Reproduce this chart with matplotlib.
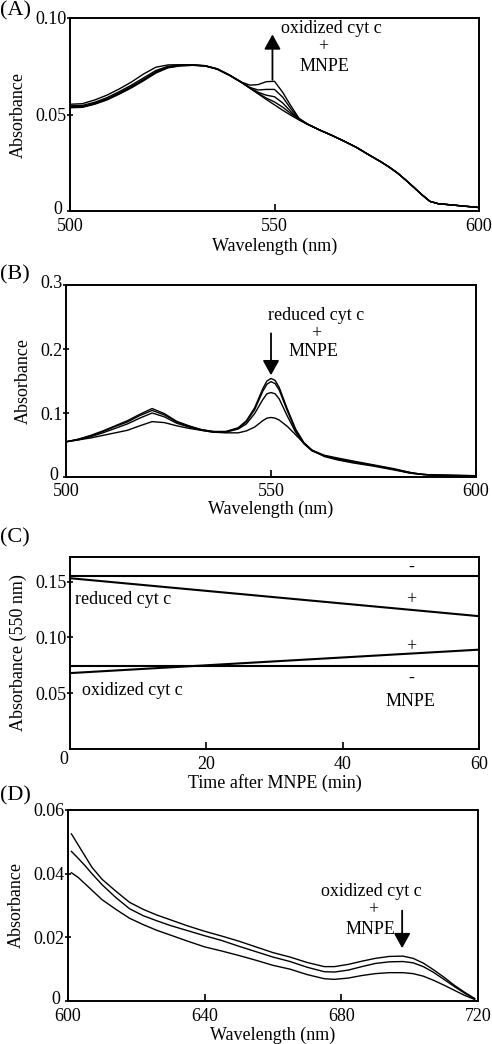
import matplotlib
matplotlib.use("Agg")
import matplotlib.pyplot as plt
from matplotlib.transforms import ScaledTranslation

plt.rcParams['font.family'] = ['Liberation Serif', 'DejaVu Serif']
plt.rcParams['font.size'] = 13

# (A) oxidized cyt c + MNPE, 500-600 nm
wl_a = [500, 503, 506, 509, 512, 515, 518, 521, 524, 527, 530, 533, 536, 539, 542, 544,
        546, 548, 550, 552, 554, 556, 558, 561, 564, 567, 570, 573, 576, 578, 580, 582,
        584, 586, 588, 590, 594, 600]
a0 = [0.0535, 0.0537, 0.0553, 0.0575, 0.0605, 0.0638, 0.0675, 0.0715, 0.0742, 0.0752, 0.0755, 0.0752,
      0.0735, 0.0703, 0.0665, 0.0636, 0.0607, 0.0578, 0.0550, 0.0522, 0.0496, 0.0472, 0.0450, 0.0420,
      0.0392, 0.0362, 0.0330, 0.0292, 0.0255, 0.0228, 0.0198, 0.0162, 0.0124, 0.0085, 0.0050, 0.0038,
      0.0030, 0.0018]
a1 = [0.0553, 0.0556, 0.0575, 0.0600, 0.0632, 0.0668, 0.0710, 0.0745, 0.0757, 0.0758, 0.0757, 0.0753,
      0.0737, 0.0705, 0.0667, 0.0652, 0.0655, 0.0670, 0.0672, 0.0615, 0.0545, 0.0480, 0.0452, 0.0420,
      0.0392, 0.0362, 0.0330, 0.0292, 0.0255, 0.0228, 0.0198, 0.0162, 0.0124, 0.0085, 0.0050, 0.0038,
      0.0030, 0.0018]
a2 = [0.0545, 0.0547, 0.0563, 0.0587, 0.0618, 0.0652, 0.0690, 0.0728, 0.0750, 0.0756, 0.0756, 0.0753,
      0.0736, 0.0704, 0.0666, 0.0640, 0.0627, 0.0630, 0.0630, 0.0590, 0.0530, 0.0478, 0.0451, 0.0420,
      0.0392, 0.0362, 0.0330, 0.0292, 0.0255, 0.0228, 0.0198, 0.0162, 0.0124, 0.0085, 0.0050, 0.0038,
      0.0030, 0.0018]
a3 = [0.0540, 0.0542, 0.0558, 0.0581, 0.0611, 0.0645, 0.0682, 0.0721, 0.0746, 0.0754, 0.0756, 0.0752,
      0.0735, 0.0703, 0.0666, 0.0638, 0.0615, 0.0600, 0.0592, 0.0560, 0.0515, 0.0475, 0.0450, 0.0420,
      0.0392, 0.0362, 0.0330, 0.0292, 0.0255, 0.0228, 0.0198, 0.0162, 0.0124, 0.0085, 0.0050, 0.0038,
      0.0030, 0.0018]
a4 = [0.0537, 0.0539, 0.0555, 0.0578, 0.0608, 0.0641, 0.0678, 0.0718, 0.0744, 0.0753, 0.0755, 0.0752,
      0.0735, 0.0703, 0.0665, 0.0637, 0.0610, 0.0585, 0.0565, 0.0538, 0.0505, 0.0474, 0.0450, 0.0420,
      0.0392, 0.0362, 0.0330, 0.0292, 0.0255, 0.0228, 0.0198, 0.0162, 0.0124, 0.0085, 0.0050, 0.0038,
      0.0030, 0.0018]

# (B) reduced cyt c + MNPE
wl_b = [500, 503, 506, 509, 512, 515, 518, 521, 524, 527, 530, 533, 536, 539, 542, 544, 546, 548,
        549, 550, 551, 552, 554, 556, 558, 560, 563, 566, 570, 575, 580, 584, 587, 590, 595, 600]
b1 = [0.055, 0.059, 0.065, 0.072, 0.080, 0.088, 0.098, 0.107, 0.099, 0.087, 0.080, 0.074, 0.071, 0.071,
      0.077, 0.088, 0.108, 0.138, 0.150, 0.154, 0.151, 0.140, 0.106, 0.075, 0.054, 0.042, 0.034, 0.030,
      0.025, 0.019, 0.013, 0.007, 0.004, 0.003, 0.003, 0.002]
b2 = [0.055, 0.059, 0.064, 0.071, 0.079, 0.086, 0.096, 0.104, 0.097, 0.086, 0.079, 0.074, 0.071, 0.071,
      0.076, 0.086, 0.105, 0.134, 0.145, 0.149, 0.146, 0.136, 0.103, 0.073, 0.053, 0.041, 0.033, 0.029,
      0.024, 0.018, 0.012, 0.007, 0.004, 0.003, 0.002, 0.002]
b3 = [0.055, 0.058, 0.063, 0.069, 0.076, 0.083, 0.092, 0.100, 0.094, 0.084, 0.078, 0.073, 0.070, 0.070,
      0.075, 0.083, 0.099, 0.121, 0.130, 0.132, 0.130, 0.122, 0.095, 0.070, 0.052, 0.041, 0.033, 0.028,
      0.023, 0.018, 0.012, 0.006, 0.004, 0.003, 0.002, 0.002]
b4 = [0.055, 0.058, 0.061, 0.065, 0.069, 0.073, 0.080, 0.0865, 0.085, 0.080, 0.076, 0.073, 0.070, 0.069,
      0.069, 0.072, 0.078, 0.088, 0.092, 0.093, 0.092, 0.089, 0.079, 0.066, 0.053, 0.042, 0.032, 0.027,
      0.022, 0.017, 0.011, 0.006, 0.004, 0.003, 0.002, 0.002]

# (C) absorbance at 550 nm vs time
t_c = [0, 60]
red_ctrl = [0.155, 0.155]
red_mnpe = [0.153, 0.119]
ox_ctrl = [0.0745, 0.0745]
ox_mnpe = [0.068, 0.089]

# (D) oxidized cyt c + MNPE, 600-720 nm
wl_d = [601, 603, 605, 607, 610, 614, 618, 622, 626, 630, 635, 640, 645, 650, 655, 660, 665, 670,
        675, 678, 682, 686, 690, 694, 698, 701, 704, 707, 710, 713, 716, 719]
d1 = [0.0525, 0.0490, 0.0455, 0.0420, 0.0382, 0.0345, 0.0310, 0.0288, 0.0270, 0.0255, 0.0236, 0.0219,
      0.0204, 0.0188, 0.0170, 0.0152, 0.0138, 0.0121, 0.0108, 0.0108, 0.0115, 0.0125, 0.0134, 0.0140,
      0.0141, 0.0134, 0.0119, 0.0098, 0.0075, 0.0050, 0.0028, 0.0008]
d2 = [0.0470, 0.0448, 0.0425, 0.0400, 0.0365, 0.0325, 0.0290, 0.0268, 0.0252, 0.0237, 0.0221, 0.0205,
      0.0190, 0.0172, 0.0155, 0.0138, 0.0124, 0.0106, 0.0092, 0.0091, 0.0097, 0.0108, 0.0118, 0.0123,
      0.0124, 0.0120, 0.0108, 0.0090, 0.0068, 0.0046, 0.0025, 0.0007]
d3 = [0.0403, 0.0388, 0.0368, 0.0348, 0.0318, 0.0288, 0.0260, 0.0240, 0.0222, 0.0207, 0.0188, 0.0170,
      0.0157, 0.0143, 0.0128, 0.0112, 0.0100, 0.0083, 0.0070, 0.0068, 0.0072, 0.0080, 0.0086, 0.0089,
      0.0089, 0.0086, 0.0078, 0.0065, 0.0050, 0.0034, 0.0018, 0.0005]

fig = plt.figure(figsize=(4.92, 10.44), dpi=100)
W, H = 492.0, 1044.0


def panel(l, r, t, b, xpad=5):
    ax = fig.add_axes([l / W, 1 - b / H, (r - l) / W, (b - t) / H])
    for s in ax.spines.values():
        s.set_linewidth(1.4)
    ax.tick_params(axis='x', direction='in', length=5, width=1.2, pad=xpad, labelsize=13)
    ax.tick_params(axis='y', direction='inout', length=5, width=1.2, pad=0, labelsize=13)
    return ax


def nudge(lbl, dx, dy):
    # shift a tick label by a few pixels
    lbl.set_transform(lbl.get_transform() + ScaledTranslation(dx / 100, dy / 100, fig.dpi_scale_trans))


arrow = dict(arrowstyle='-|>,head_length=0.45,head_width=0.25', color='k', lw=1.3,
             mutation_scale=20, shrinkA=0, shrinkB=0)

# ---- A
ax = panel(70, 479, 18, 211)
for y in (a0, a1, a2, a3, a4):
    ax.plot(wl_a, y, color='k', lw=1.0)
ax.set_xlim(500, 600)
ax.set_ylim(0, 0.10)
ax.set_xticks([500, 550, 600])
ax.set_yticks([0, 0.05, 0.10])
ax.set_yticklabels(['0', '0.05', '0.10'])
nudge(ax.get_yticklabels()[0], -4, 3)
ax.set_xlabel('Wavelength (nm)', labelpad=2)
ax.set_ylabel('Absorbance', labelpad=6)
ax.annotate('', xy=(549.5, 0.0915), xytext=(549.5, 0.068), arrowprops=arrow)
ax.text(564, 0.0948, 'oxidized cyt c', ha='center', va='center')
ax.text(561.8, 0.0853, '+', ha='center', va='center')
ax.text(562.3, 0.0748, 'MNPE', ha='center', va='center')
fig.text(0, 1 - 11 / H, '(A)', fontsize=16, va='center', ha='left')

# ---- B
ax = panel(66, 476, 285, 477, xpad=4)
for y in (b1, b2, b3, b4):
    ax.plot(wl_b, y, color='k', lw=1.0)
ax.set_xlim(500, 600)
ax.set_ylim(0, 0.3)
ax.set_xticks([500, 550, 600])
ax.set_yticks([0, 0.1, 0.2, 0.3])
ax.set_yticklabels(['0', '0.1', '0.2', '0.3'])
nudge(ax.get_yticklabels()[0], -4, 3)
nudge(ax.get_yticklabels()[3], 0, 4)
ax.set_xlabel('Wavelength (nm)', labelpad=1)
ax.set_ylabel('Absorbance', labelpad=6)
ax.annotate('', xy=(550, 0.159), xytext=(550, 0.2245), arrowprops=arrow)
ax.text(561.1, 0.252, 'reduced cyt c', ha='center', va='center')
ax.text(561.0, 0.224, '+', ha='center', va='center')
ax.text(560.3, 0.196, 'MNPE', ha='center', va='center')
fig.text(0, 1 - 275 / H, '(B)', fontsize=16, va='center', ha='left')

# ---- C
ax = panel(70, 479, 557, 749)
ax.plot(t_c, red_ctrl, color='k', lw=1.5)
ax.plot(t_c, red_mnpe, color='k', lw=1.5)
ax.plot(t_c, ox_ctrl, color='k', lw=1.5)
ax.plot(t_c, ox_mnpe, color='k', lw=1.5)
ax.set_xlim(0, 60)
ax.set_ylim(0, 0.172)
ax.set_xticks([0, 20, 40, 60])
ax.set_xticklabels(['0', '20', '40', '60'])
nudge(ax.get_xticklabels()[0], -6, 5)
ax.set_yticks([0.05, 0.10, 0.15])
ax.set_yticklabels(['0.05', '0.10', '0.15'])
ax.set_xlabel('Time after MNPE (min)', labelpad=1)
ax.set_ylabel('Absorbance (550 nm)', labelpad=6)
ax.text(50, 0.163, '-', ha='center', va='center')
ax.text(50, 0.134, '+', ha='center', va='center')
ax.text(50, 0.092, '+', ha='center', va='center')
ax.text(50, 0.063, '-', ha='center', va='center')
ax.text(50, 0.0425, 'MNPE', ha='center', va='center')
ax.text(0.7, 0.134, 'reduced cyt c', ha='left', va='center')
ax.text(1.7, 0.052, 'oxidized cyt c', ha='left', va='center')
fig.text(0, 1 - 538 / H, '(C)', fontsize=16, va='center', ha='left')

# ---- D
ax = panel(68, 478, 810, 1001)
for y in (d1, d2, d3):
    ax.plot(wl_d, y, color='k', lw=1.0)
ax.set_xlim(600, 720)
ax.set_ylim(0, 0.06)
ax.set_xticks([600, 640, 680, 720])
ax.set_yticks([0, 0.02, 0.04, 0.06])
ax.set_yticklabels(['0', '0.02', '0.04', '0.06'])
nudge(ax.get_yticklabels()[0], -4, 3)
ax.set_xlabel('Wavelength (nm)', labelpad=1)
ax.set_ylabel('Absorbance', labelpad=6)
ax.annotate('', xy=(697.8, 0.0166), xytext=(697.8, 0.0284), arrowprops=arrow)
ax.text(688.9, 0.0343, 'oxidized cyt c', ha='center', va='center')
ax.text(689.4, 0.0286, '+', ha='center', va='center')
ax.text(688.4, 0.0226, 'MNPE', ha='center', va='center')
fig.text(0, 1 - 796 / H, '(D)', fontsize=16, va='center', ha='left')

fig.savefig('out.png', dpi=100)
